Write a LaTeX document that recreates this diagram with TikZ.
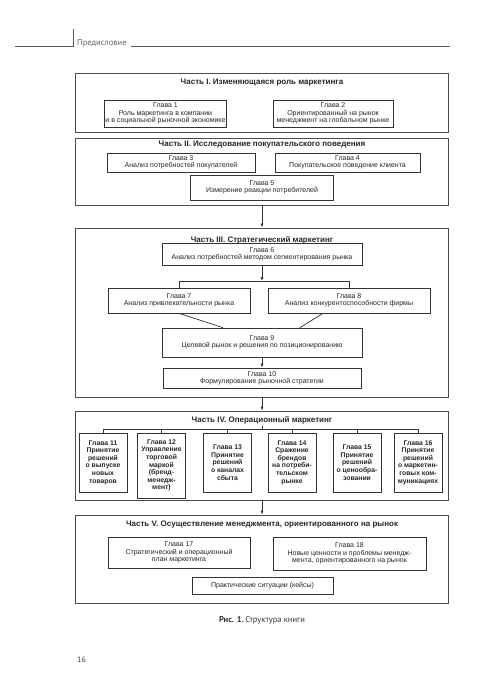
\documentclass[tikz,border=0pt]{standalone}
\usepackage{fontspec}
\setmainfont{Liberation Sans}
\newfontfamily\pagefont{PT Sans}
\usetikzlibrary{arrows.meta}

\tikzset{
  part/.style={draw=black!70, line width=0.9pt, minimum width=373pt, inner sep=0pt},
  parttitle/.style={font=\fontsize{8}{8.5}\selectfont\bfseries, text=black!85, inner sep=0pt},
  chapter/.style={draw=black!80, line width=0.7pt, align=center, inner sep=1pt,
    font=\fontsize{7}{7.4}\selectfont, text=black!85},
  opchapter/.style={chapter, minimum width=48pt, font=\fontsize{6.8}{7.6}\selectfont\bfseries},
  wire/.style={draw=black!80, line width=0.7pt},
  arrow/.style={wire, -{Latex[length=4pt,width=3pt]}},
  rule/.style={draw=black!65, line width=0.6pt},
}

\begin{document}
\begin{tikzpicture}[x=1pt, y=-1pt]
	\useasboundingbox[fill=white] (0,0) rectangle (495,700);
	% Page head, caption and folio:
	\coordinate (hl) at (15,46);
	\coordinate (hm) at (73,46);
	\coordinate (ht) at (73,29);
	\coordinate (hr) at (450,46);
	\node[anchor=base west, inner sep=0pt, text=black!60, font=\pagefont\fontsize{8.5}{10}\selectfont] (head) at (77,46) {Предисловие};
	\draw[rule] (hl) -- (hm) -- (ht);
	\draw[rule] ([xshift=4pt]head.east |- hm) -- (hr);
	\node[font=\pagefont\fontsize{8.5}{10}\selectfont, text=black!80] (cap) at (262,620) {\textbf{Рис. 1.}\,Структура книги};
	\node[anchor=base west, inner sep=0pt, font=\pagefont\fontsize{8}{10}\selectfont, text=black!75] (folio) at (77,662) {16};

	% Part I
	\node[part, minimum height=59pt] (p1) at (262,102.5) {};
	\node[parttitle] (t1) at (262,83) {Часть I. Изменяющаяся роль маркетинга};
	\node[chapter, minimum width=115pt, minimum height=27pt] (c1) at (165.5,113.5) {Глава 1\\Роль маркетинга в компании\\и в социальной рыночной экономике};
	\node[chapter, minimum width=120pt, minimum height=27pt] (c2) at (333,113.5) {Глава 2\\Ориентированный на рынок\\менеджмент на глобальном рынке};

	% Part II
	\node[part, minimum height=67pt] (p2) at (262,171.5) {};
	\node[parttitle] (t2) at (262,145) {Часть II. Исследование покупательского поведения};
	\node[chapter, minimum width=148pt, minimum height=19pt] (c3) at (181,162.5) {Глава 3\\Анализ потребностей покупателей};
	\node[chapter, minimum width=145pt, minimum height=19pt] (c4) at (347.5,162.5) {Глава 4\\Покупательское поведение клиента};
	\node[chapter, minimum width=143pt, minimum height=25pt] (c5) at (262,187.5) {Глава 5\\Измерение реакции потребителей};

	% Part III
	\node[part, minimum height=169pt] (p3) at (262,312.5) {};
	\node[parttitle] (t3) at (262,240) {Часть III. Стратегический маркетинг};
	\node[chapter, minimum width=200pt, minimum height=22pt] (c6) at (262,254) {Глава 6\\Анализ потребностей методом сегментирования рынка};
	\node[chapter, minimum width=142pt, minimum height=25pt] (c7) at (179,300.5) {Глава 7\\Анализ привлекательности рынка};
	\node[chapter, minimum width=162pt, minimum height=25pt] (c8) at (349,300.5) {Глава 8\\Анализ конкурентоспособности фирмы};
	\node[chapter, minimum width=200pt, minimum height=29pt] (c9) at (262,342.5) {Глава 9\\Целевой рынок и решения по позиционированию};
	\node[chapter, minimum width=198pt, minimum height=20pt] (c10) at (262,378) {Глава 10\\Формулирование рыночной стратегии};
	\coordinate (br3) at (262,281);
	\draw[arrow] (c6.south) -- (br3);
	\draw[wire] (c7.north) |- (c8.north |- br3) -- (c8.north);
	\draw[wire] (c7.south) -- ([xshift=-39pt]c9.north);
	\draw[wire] ([xshift=-26pt]c8.south) -- ([xshift=38pt]c9.north);
	\draw[arrow] (c9) -- (c10);

	% Part IV
	\node[part, minimum height=89pt] (p4) at (262,455.5) {};
	\node[parttitle] (t4) at (262,420) {Часть IV. Операционный маркетинг};
	\node[opchapter, minimum height=59pt] (c11) at (103,462.5) {Глава 11\\Принятие\\решений\\о выпуске\\новых\\товаров};
	\node[opchapter, minimum height=65pt] (c12) at (161.5,465.5) {Глава 12\\Управление\\торговой\\маркой\\(бренд-\\менедж-\\мент)};
	\node[opchapter, minimum height=59pt] (c13) at (227.5,462.5) {Глава 13\\Принятие\\решений\\о каналах\\сбыта};
	\node[opchapter, minimum height=59pt] (c14) at (292,462.5) {Глава 14\\Сражение\\брендов\\на потреби-\\тельском\\рынке};
	\node[opchapter, minimum height=59pt] (c15) at (357,462.5) {Глава 15\\Принятие\\решений\\о ценообра-\\зовании};
	\node[opchapter, minimum height=59pt] (c16) at (418,462.5) {Глава 16\\Принятие\\решений\\о маркетин-\\говых ком-\\муникациях};
	\coordinate (br4) at (262,429);
	\draw[wire] (br4) -- ++(0,-3);
	\draw[wire] (c11.north |- br4) -- (c16.north |- br4);
	\foreach \n in {11,...,16}
		\draw[wire] (c\n.north) -- (c\n.north |- br4);

	% Part V
	\node[part, minimum height=88pt] (p5) at (262,559) {};
	\node[parttitle] (t5) at (262,525) {Часть V. Осуществление менеджмента, ориентированного на рынок};
	\node[chapter, minimum width=142pt, minimum height=31pt] (c17) at (179,552.5) {Глава 17\\Стратегический и операционный\\план маркетинга};
	\node[chapter, minimum width=153pt, minimum height=33pt] (c18) at (349.5,553.5) {Глава 18\\Новые ценности и проблемы менедж-\\мента, ориентированного на рынок};
	\node[chapter, minimum width=141pt, minimum height=17pt] (cases) at (262.5,585.5) {Практические ситуации (кейсы)};

	% Links between parts:
	\draw[arrow] (p2) -- (p3);
	\draw[arrow] (p3) -- (p4);
	\draw[arrow] (p4) -- (p5);
\end{tikzpicture}
\end{document}
